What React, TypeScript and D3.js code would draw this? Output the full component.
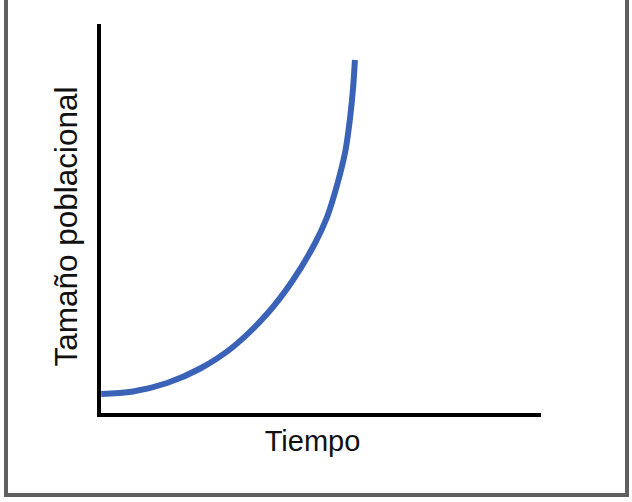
import React from "react";
import * as d3 from "d3";

const timeValues = [0.05, 0.77, 1.54, 2.29, 3.03, 3.8, 4.39, 4.89, 5.16, 5.38, 5.57, 5.68, 5.75, 5.79];
const populationValues = [5.37, 6.01, 8.18, 11.89, 17.39, 25.83, 34.53, 43.99, 50.64, 58.57, 67.26, 75.96, 83.89, 90.79];
const xLabel = "Tiempo";
const yLabel = "Tamaño poblacional";

const W = 632;
const H = 502;

export default function App() {
  const x = d3.scaleLinear().domain([0, 10]).range([99, 541]);
  const y = d3.scaleLinear().domain([0, 100]).range([415, 24]);
  const pts: [number, number][] = timeValues.map((t, i) => [t, populationValues[i]]);
  const line = d3
    .line<[number, number]>()
    .x((d) => x(d[0]))
    .y((d) => y(d[1]))
    .curve(d3.curveCatmullRom.alpha(0.5));
  const [x0, x1] = x.range();
  const [y0, y1] = y.range();
  return (
    <svg
      width={W}
      height={H}
      style={{ position: "absolute", left: 0, top: 0, background: "#fff" }}
      fontFamily="'Liberation Sans', Arial, Helvetica, sans-serif"
    >
      <path d={`M6,-5 V495 H627 V-5`} fill="none" stroke="#5f5f5f" strokeWidth={4} />
      <path d={line(pts) || ""} fill="none" stroke="#3a63b8" strokeWidth={6} />
      <line x1={x0} x2={x0} y1={y1} y2={y0 + 2} stroke="#000" strokeWidth={4} />
      <line x1={x0 - 2} x2={x1} y1={y0} y2={y0} stroke="#000" strokeWidth={4} />
      <text x={312.5} y={451} textAnchor="middle" fontSize={29} fill="#111">
        {xLabel}
      </text>
      <text
        transform={`translate(77,226.5) rotate(-90)`}
        textAnchor="middle"
        fontSize={31.5}
        fill="#111"
      >
        {yLabel}
      </text>
    </svg>
  );
}
